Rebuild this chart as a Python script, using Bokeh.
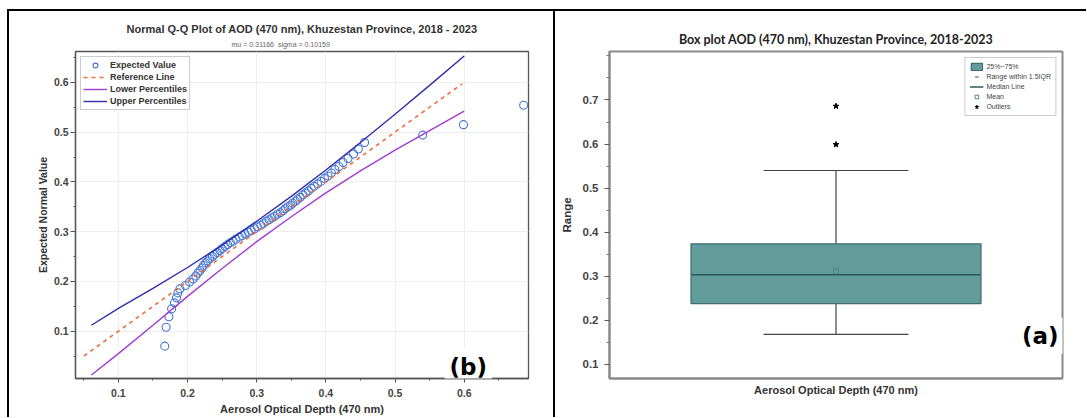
import math
from bokeh.plotting import figure
from bokeh.layouts import row, column
from bokeh.models import (ColumnDataSource, Legend, LegendItem, Label, Title, FixedTicker,
                          Spacer)
from bokeh.embed import file_html
from bokeh.resources import INLINE

# ---------------- data: Normal Q-Q plot ----------------
aod_sorted = [0.167, 0.169, 0.173, 0.177, 0.181, 0.184, 0.186, 0.189, 0.197, 0.203,
              0.208, 0.212, 0.215, 0.218, 0.221, 0.223, 0.226, 0.229, 0.232, 0.236,
              0.239, 0.243, 0.247, 0.250, 0.254, 0.258, 0.262, 0.266, 0.270, 0.275,
              0.279, 0.283, 0.288, 0.292, 0.297, 0.301, 0.306, 0.310, 0.314, 0.318,
              0.322, 0.326, 0.330, 0.334, 0.338, 0.341, 0.345, 0.349, 0.352, 0.356,
              0.359, 0.363, 0.367, 0.371, 0.375, 0.379, 0.383, 0.388, 0.393, 0.398,
              0.403, 0.408, 0.413, 0.419, 0.425, 0.432, 0.440, 0.447, 0.456, 0.540,
              0.599, 0.686]
expected_normal = [0.070, 0.108, 0.129, 0.145, 0.157, 0.167, 0.177, 0.185, 0.192, 0.199,
                   0.205, 0.211, 0.217, 0.222, 0.227, 0.232, 0.237, 0.241, 0.246, 0.250,
                   0.254, 0.258, 0.262, 0.266, 0.270, 0.274, 0.278, 0.281, 0.285, 0.289,
                   0.292, 0.296, 0.299, 0.303, 0.306, 0.310, 0.313, 0.317, 0.321, 0.324,
                   0.328, 0.331, 0.335, 0.338, 0.342, 0.346, 0.350, 0.353, 0.357, 0.361,
                   0.365, 0.369, 0.374, 0.378, 0.382, 0.387, 0.391, 0.396, 0.401, 0.407,
                   0.412, 0.418, 0.425, 0.431, 0.439, 0.447, 0.456, 0.466, 0.479, 0.494,
                   0.515, 0.554]
ref_line_x = [0.050, 0.597]
ref_line_y = [0.050, 0.597]
band_x = [0.061, 0.10, 0.15, 0.20, 0.25, 0.30, 0.35, 0.40, 0.45, 0.50, 0.55, 0.60]
upper_pct = [0.112, 0.146, 0.186, 0.228, 0.273, 0.321, 0.371, 0.424, 0.479, 0.536, 0.594, 0.653]
lower_pct = [0.012, 0.055, 0.112, 0.170, 0.226, 0.280, 0.330, 0.378, 0.422, 0.464, 0.503, 0.542]
qq_xticks = [0.1, 0.2, 0.3, 0.4, 0.5, 0.6]
qq_xminor = [0.05, 0.15, 0.25, 0.35, 0.45, 0.55, 0.65]
qq_yticks = [0.1, 0.2, 0.3, 0.4, 0.5, 0.6]
qq_yminor = [0.05, 0.15, 0.25, 0.35, 0.45, 0.55, 0.65]
qq_title = "Normal Q-Q Plot of AOD (470 nm), Khuzestan Province, 2018 - 2023"
qq_subtitle = "mu = 0.31166\u00a0 sigma = 0.10159"

# ---------------- data: box plot ----------------
box_q1 = 0.238
box_median = 0.3035
box_q3 = 0.3735
whisker_low = 0.168
whisker_high = 0.540
box_mean = 0.3117
outliers = [0.599, 0.686]
box_yticks = [0.1, 0.2, 0.3, 0.4, 0.5, 0.6, 0.7]
box_yminor = [0.05, 0.15, 0.25, 0.35, 0.45, 0.55, 0.65, 0.75, 0.80]
box_title = "Box plot AOD (470 nm), Khuzestan Province, 2018-2023"
box_legend_labels = ["25%~75%", "Range within 1.5IQR", "Median Line", "Mean", "Outliers"]
x_label = "Aerosol Optical Depth (470 nm)"

# ---------------- styles ----------------
ARIAL = "Liberation Sans"
BLUE = "#4374d6"
REF = "#ef6f3c"
LOWER = "#a23bd2"
UPPER = "#2f2fae"
TEAL = "#629b9b"
H = 406

# =============== left: Q-Q plot ===============
qx0, qx1 = 0.038, 0.693
qy0, qy1 = 0.005, 0.662
p1 = figure(width=544, height=H, x_range=(qx0, qx1), y_range=(qy0, qy1),
            output_backend="svg", toolbar_location=None,
            min_border_left=66, min_border_right=25, min_border_top=40, min_border_bottom=38)
p1.outline_line_color = "#555555"
p1.outline_line_width = 1.3
p1.xgrid.ticker = FixedTicker(ticks=qq_xticks)
p1.ygrid.ticker = FixedTicker(ticks=qq_yticks)
p1.grid.grid_line_color = "#eeeeee"

r_pts = p1.scatter(aod_sorted, expected_normal, marker="circle", size=8,
                   fill_color=None, line_color=BLUE, line_width=1.1)
r_ref = p1.line(ref_line_x, ref_line_y, line_color=REF, line_width=1.6, line_dash="4 4")
r_low = p1.line(band_x, lower_pct, line_color=LOWER, line_width=1.4)
r_up = p1.line(band_x, upper_pct, line_color=UPPER, line_width=1.4)

for ax, ticks, minor in ((p1.xaxis, qq_xticks, qq_xminor), (p1.yaxis, qq_yticks, qq_yminor)):
    ax.ticker = FixedTicker(ticks=ticks, minor_ticks=minor)
    ax.axis_line_color = "#555555"
    ax.axis_line_width = 1.3
    ax.major_tick_line_color = "#555555"
    ax.minor_tick_line_color = "#555555"
    ax.major_tick_in = 0
    ax.minor_tick_in = 0
    ax.minor_tick_out = 2
    ax.major_label_text_font = ARIAL
    ax.major_label_text_font_size = "10.5px"
    ax.major_label_text_font_style = "bold"
    ax.major_label_text_color = "#444444"
    ax.axis_label_text_font = ARIAL
    ax.axis_label_text_font_style = "bold"
    ax.axis_label_text_color = "#333333"
p1.xaxis.major_tick_out = 4
p1.xaxis.major_label_standoff = 6
p1.xaxis.axis_label = x_label
p1.xaxis.axis_label_text_font_size = "11px"
p1.xaxis.axis_label_standoff = 3
p1.yaxis.major_tick_out = 5
p1.yaxis.major_label_standoff = 2
p1.yaxis.axis_label = "Expected Normal Value"
p1.yaxis.axis_label_text_font_size = "10.5px"
p1.yaxis.axis_label_standoff = 2

leg1 = Legend(items=[LegendItem(label="Expected Value", renderers=[r_pts]),
                     LegendItem(label="Reference Line", renderers=[r_ref]),
                     LegendItem(label="Lower Percentiles", renderers=[r_low]),
                     LegendItem(label="Upper Percentiles", renderers=[r_up])],
              location="top_left", margin=5, padding=2, spacing=0,
              glyph_width=24, glyph_height=12, label_height=12, label_standoff=3,
              label_text_font=ARIAL, label_text_font_size="9px", label_text_font_style="bold",
              label_text_color="#333333", border_line_color="#999999", border_line_width=1,
              background_fill_color="white", background_fill_alpha=1.0)
p1.add_layout(leg1)

# titles: first added sits next to the frame
p1.add_layout(Title(text=qq_subtitle, align="left", offset=156, standoff=8,
                    text_font=ARIAL, text_font_size="7px", text_font_style="normal",
                    text_color="#666666"), "above")
p1.add_layout(Title(text=qq_title, align="center", standoff=0,
                    text_font=ARIAL, text_font_size="11px", text_font_style="bold",
                    text_color="#333333"), "above")
p1.add_layout(Label(x=0.606, y=0.029, text="(b)", text_align="center", text_baseline="middle",
                    text_font="DejaVu Sans", text_font_style="bold", text_font_size="23px",
                    text_color="black", background_fill_color="white", background_fill_alpha=1.0,
                    padding=5))

# =============== right: box plot ===============
bx0, bx1 = 0.0, 1.0
by0, by1 = 0.068, 0.81
center = 0.5
half_box = 0.32
half_cap = 0.16
p2 = figure(width=531, height=H, x_range=(bx0, bx1), y_range=(by0, by1),
            output_backend="svg", toolbar_location=None,
            min_border_left=54, min_border_right=24, min_border_top=26, min_border_bottom=29)
p2.outline_line_color = "#8a8a8a"
p2.outline_line_width = 2
p2.grid.visible = False

box_src = ColumnDataSource(dict(left=[center - half_box], right=[center + half_box],
                                bottom=[box_q1], top=[box_q3]))
whisk_src = ColumnDataSource(dict(
    x0=[center, center, center - half_cap, center - half_cap],
    y0=[box_q3, box_q1, whisker_high, whisker_low],
    x1=[center, center, center + half_cap, center + half_cap],
    y1=[whisker_high, whisker_low, whisker_high, whisker_low]))
med_src = ColumnDataSource(dict(x0=[center - half_box], x1=[center + half_box],
                                y0=[box_median], y1=[box_median]))

p2.segment("x0", "y0", "x1", "y1", source=whisk_src, line_color="#444444", line_width=1.2)
r_box = p2.quad(left="left", right="right", bottom="bottom", top="top", source=box_src,
                fill_color=TEAL, line_color="#3f6f70", line_width=1.3)
r_med = p2.segment("x0", "y0", "x1", "y1", source=med_src, line_color="#2c5858", line_width=1.6)
r_mean = p2.scatter([center], [box_mean], marker="square", size=5, fill_color=None,
                    line_color="#4f8585", line_width=1)
r_out = p2.scatter([center] * len(outliers), outliers, marker="star", size=6,
                   fill_color="black", line_color="black")
# zero-size vertical dash on the whisker: invisible in the plot, gives the legend its symbol
r_wl = p2.scatter([center], [whisker_high], marker="dash", angle=math.pi / 2,
                  size=0, line_color="#444444", line_width=1.2)

ya = p2.yaxis
ya.ticker = FixedTicker(ticks=box_yticks, minor_ticks=box_yminor)
ya.axis_line_color = "#8a8a8a"
ya.axis_line_width = 2
ya.major_tick_line_color = "#555555"
ya.minor_tick_line_color = "#777777"
ya.major_tick_in = 0
ya.minor_tick_in = 0
ya.major_tick_out = 5
ya.minor_tick_out = 3
ya.major_label_standoff = 6
ya.major_label_text_font = ARIAL
ya.major_label_text_font_size = "11.5px"
ya.major_label_text_font_style = "bold"
ya.major_label_text_color = "#444444"
ya.axis_label = "Range"
ya.axis_label_text_font = ARIAL
ya.axis_label_text_font_style = "bold"
ya.axis_label_text_font_size = "11.5px"
ya.axis_label_text_color = "#333333"
ya.axis_label_standoff = 7

xa = p2.xaxis
xa.ticker = FixedTicker(ticks=[])
xa.axis_line_color = "#8a8a8a"
xa.axis_line_width = 2
xa.major_tick_out = 0
xa.major_tick_in = 0
xa.minor_tick_out = 0
xa.minor_tick_in = 0
xa.major_label_standoff = 0
xa.axis_label = x_label
xa.axis_label_text_font = ARIAL
xa.axis_label_text_font_style = "bold"
xa.axis_label_text_font_size = "11px"
xa.axis_label_text_color = "#333333"
xa.axis_label_standoff = 5

leg2 = Legend(items=[LegendItem(label=box_legend_labels[0], renderers=[r_box]),
                     LegendItem(label=box_legend_labels[1], renderers=[r_wl]),
                     LegendItem(label=box_legend_labels[2], renderers=[r_med]),
                     LegendItem(label=box_legend_labels[3], renderers=[r_mean]),
                     LegendItem(label=box_legend_labels[4], renderers=[r_out])],
              location="top_right", margin=6, padding=4, spacing=1,
              glyph_width=14, glyph_height=9, label_height=9, label_standoff=3,
              label_text_font=ARIAL, label_text_font_size="7px", label_text_color="#444444",
              border_line_color="#999999", border_line_width=1,
              background_fill_color="white", background_fill_alpha=1.0)
p2.add_layout(leg2)

p2.add_layout(Title(text=box_title, align="center", standoff=10, text_font="Lato",
                    text_font_size="12.5px", text_font_style="bold", text_color="#222222"),
              "above")
p2.add_layout(Label(x=0.951, y=0.165, text="(a)", text_align="center", text_baseline="middle",
                    text_font="DejaVu Sans", text_font_style="bold", text_font_size="23px",
                    text_color="black", background_fill_color="white", background_fill_alpha=1.0,
                    padding=5))

# =============== panel frame lines and layout ===============
BLACK = {"background-color": "black"}
top_line = row(Spacer(width=7, height=2), Spacer(width=1079, height=2, styles=BLACK), spacing=0)
body = row(Spacer(width=7, height=H), Spacer(width=2, height=H, styles=BLACK), p1,
           Spacer(width=2, height=H, styles=BLACK), p2, spacing=0)
layout = column(Spacer(width=1086, height=9), top_line, body, spacing=0)

open("out.html", "w").write(file_html(layout, INLINE))
